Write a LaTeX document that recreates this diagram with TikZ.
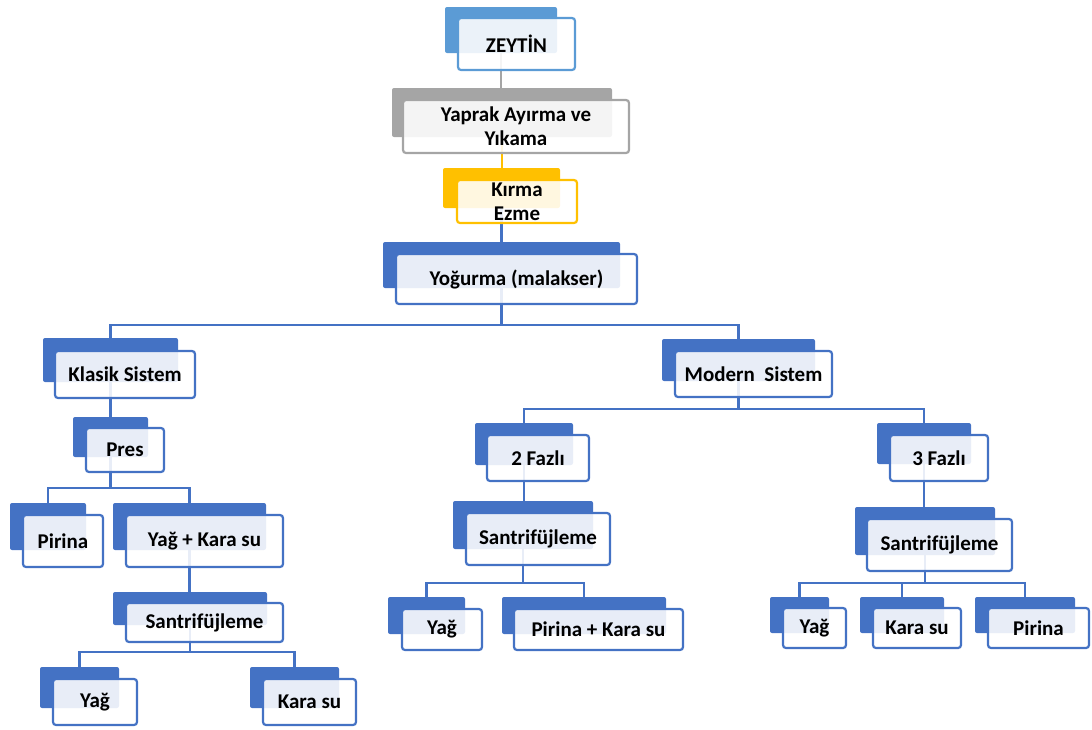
\documentclass[tikz,border=0pt]{standalone}
\usepackage{fontspec}
\setmainfont{Carlito}
\usetikzlibrary{calc}
\definecolor{sblue}{HTML}{4472C4}
\definecolor{lblue}{HTML}{5B9BD5}
\definecolor{sgray}{HTML}{A5A5A5}
\definecolor{sgold}{HTML}{FFC000}
\pgfdeclarelayer{bg}
\pgfsetlayers{bg,main}
\tikzset{
  backbox/.style={fill=#1, draw=none, rounded corners=2pt, inner sep=0pt},
  backbox/.default=sblue,
  frontbox/.style={draw=#1, line width=2.2pt, rounded corners=3pt, fill=white,
    fill opacity=0.88, text opacity=1, inner sep=0pt, align=center,
    font=\fontsize{21}{24}\selectfont\bfseries},
  frontbox/.default=sblue,
  link/.style={draw=#1, line width=2.4pt},
  link/.default=sblue
}
\begin{document}
\begin{tikzpicture}[x=1pt, y=-1pt]
        \useasboundingbox (0,0) rectangle (1092,729);

        % Top chain
        \node[backbox=lblue, minimum width=112pt, minimum height=46pt] (zeytinB) at (501,30) {};
        \node[frontbox=lblue, minimum width=117pt, minimum height=52pt] (zeytin) at (516.5,44) {ZEYTİN};
        \node[backbox=sgray, minimum width=220pt, minimum height=49pt] (yaprakB) at (502,112.5) {};
        \node[frontbox=sgray, minimum width=226pt, minimum height=53pt] (yaprak) at (516,126.5) {Yaprak Ayırma ve\\Yıkama};
        \node[backbox=sgold, minimum width=117pt, minimum height=40pt] (kirmaB) at (501.5,188) {};
        \node[frontbox=sgold, minimum width=120pt, minimum height=43pt] (kirma) at (517,201.5) {Kırma\\Ezme};
        \node[backbox, minimum width=237pt, minimum height=46pt] (yogurmaB) at (501.5,265) {};
        \node[frontbox, minimum width=241pt, minimum height=50pt] (yogurma) at (516.5,279) {Yoğurma (malakser)};

        % Klasik Sistem
        \node[backbox, minimum width=135pt, minimum height=44pt] (klasikB) at (110.5,360) {};
        \node[frontbox, minimum width=140pt, minimum height=47pt] (klasik) at (125,374.5) {Klasik Sistem};
        \node[backbox, minimum width=75pt, minimum height=40pt] (presB) at (110.5,437) {};
        \node[frontbox, minimum width=78pt, minimum height=44pt] (pres) at (125,450) {Pres};
        \node[backbox, minimum width=76pt, minimum height=47pt] (pirinaAB) at (48,526.5) {};
        \node[frontbox, minimum width=80pt, minimum height=52pt] (pirinaA) at (63,541) {Pirina};
        \node[backbox, minimum width=153pt, minimum height=47pt] (yagkaraB) at (189.5,526.5) {};
        \node[frontbox, minimum width=157pt, minimum height=52pt] (yagkara) at (204.5,541) {Yağ + Kara su};
        \node[backbox, minimum width=154pt, minimum height=33pt] (santAB) at (190,608.5) {};
        \node[frontbox, minimum width=157pt, minimum height=39pt] (santA) at (204.5,622.5) {Santrifüjleme};
        \node[backbox, minimum width=79pt, minimum height=41pt] (yagAB) at (79.5,687.5) {};
        \node[frontbox, minimum width=84pt, minimum height=46pt] (yagA) at (95,702) {Yağ};
        \node[backbox, minimum width=89pt, minimum height=41pt] (karaAB) at (294.5,687.5) {};
        \node[frontbox, minimum width=93pt, minimum height=46pt] (karaA) at (309.5,702) {Kara su};

        % Modern Sistem
        \node[backbox, minimum width=153pt, minimum height=42pt] (modernB) at (738.5,360) {};
        \node[frontbox, minimum width=157pt, minimum height=46pt] (modern) at (753.5,374) {Modern~~Sistem};
        \node[backbox, minimum width=98pt, minimum height=42pt] (faz2B) at (524,444) {};
        \node[frontbox, minimum width=102pt, minimum height=46pt] (faz2) at (538,458) {2 Fazlı};
        \node[backbox, minimum width=140pt, minimum height=48pt] (santBB) at (523,525) {};
        \node[frontbox, minimum width=144pt, minimum height=52pt] (santB) at (538,539) {Santrifüjleme};
        \node[backbox, minimum width=77pt, minimum height=37pt] (yagBB) at (426.5,615.5) {};
        \node[frontbox, minimum width=80pt, minimum height=41pt] (yagB) at (442,629.5) {Yağ};
        \node[backbox, minimum width=164pt, minimum height=37pt] (pkaraB) at (584,615.5) {};
        \node[frontbox, minimum width=169pt, minimum height=41pt] (pkara) at (598.5,629.5) {Pirina + Kara su};
        \node[backbox, minimum width=94pt, minimum height=41pt] (faz3B) at (924,443.5) {};
        \node[frontbox, minimum width=98pt, minimum height=46pt] (faz3) at (939,458) {3 Fazlı};
        \node[backbox, minimum width=140pt, minimum height=48pt] (santCB) at (925,531) {};
        \node[frontbox, minimum width=145pt, minimum height=52pt] (santC) at (939.5,545) {Santrifüjleme};
        \node[backbox, minimum width=59pt, minimum height=36pt] (yagCB) at (799.5,615) {};
        \node[frontbox, minimum width=63pt, minimum height=40pt] (yagC) at (814.5,628) {Yağ};
        \node[backbox, minimum width=84pt, minimum height=36pt] (karaCB) at (902,615) {};
        \node[frontbox, minimum width=88pt, minimum height=40pt] (karaC) at (917,628) {Kara su};
        \node[backbox, minimum width=100pt, minimum height=36pt] (pirinaCB) at (1025,615) {};
        \node[frontbox, minimum width=101pt, minimum height=40pt] (pirinaC) at (1038.5,628) {Pirina};

        % Buses
        \coordinate (busA) at (0,325);
        \coordinate (busB) at (0,488);
        \coordinate (busC) at (0,652);
        \coordinate (busD) at (0,409);
        \coordinate (busE) at (0,583);

        % Connectors
        \begin{pgfonlayer}{bg}
        \draw[link=sgray] (zeytinB.center) -- (zeytinB.center |- yaprakB.north);
        \draw[link=sgold] (yaprakB.center) -- (yaprakB.center |- kirmaB.north);
        \draw[link] (kirmaB.center) -- (kirmaB.center |- yogurmaB.north);
        \draw[link] (yogurmaB.center) |- (busA -| klasikB) -- (klasikB.north);
        \draw[link] (yogurmaB.center) |- (busA -| modernB) -- (modernB.north);
        \draw[link] (klasikB.center) -- (presB.north);
        \draw[link] (presB.center) |- (busB -| pirinaAB) -- (pirinaAB.north);
        \draw[link] (presB.center) |- (busB -| yagkaraB) -- (yagkaraB.north);
        \draw[link] (yagkaraB.center) -- (yagkaraB.center |- santAB.north);
        \draw[link] (santAB.center) |- (busC -| yagAB) -- (yagAB.north);
        \draw[link] (santAB.center) |- (busC -| karaAB) -- (karaAB.north);
        \draw[link] (modernB.center) |- (busD -| faz2B) -- (faz2B.north);
        \draw[link] (modernB.center) |- (busD -| faz3B) -- (faz3B.north);
        \draw[link] (faz2B.center) -- (faz2B.center |- santBB.north);
        \draw[link] (santBB.center) |- (busE -| yagBB) -- (yagBB.north);
        \draw[link] (santBB.center) |- (busE -| pkaraB) -- (pkaraB.north);
        \draw[link] (faz3B.center) -- (faz3B.center |- santCB.north);
        \draw[link] (santCB.center) |- (busE -| yagCB) -- (yagCB.north);
        \draw[link] (santCB.center) |- (busE -| karaCB) -- (karaCB.north);
        \draw[link] (santCB.center) |- (busE -| pirinaCB) -- (pirinaCB.north);
        \end{pgfonlayer}
    \end{tikzpicture}
\end{document}
